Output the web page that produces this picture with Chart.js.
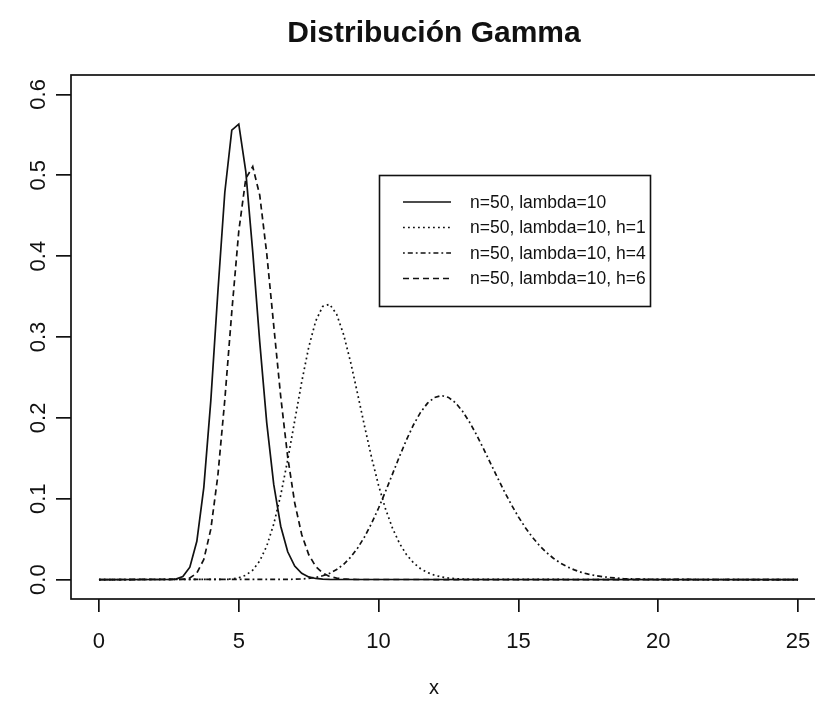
<!DOCTYPE html>
<html>
<head>
<meta charset="utf-8">
<script src="https://cdn.jsdelivr.net/npm/chart.js@4.4.1/dist/chart.umd.min.js"></script>
<style>
html, body { margin: 0; padding: 0; background: #fff; overflow: hidden; }
</style>
</head>
<body>
<canvas id="gammaChart" width="868" height="707"></canvas>
<script>
var chartTitle = "Distribución Gamma";
var xAxisLabel = "x";
var xTicks = [0, 5, 10, 15, 20, 25];
var yTicks = [0, 0.1, 0.2, 0.3, 0.4, 0.5, 0.6];
var yTickLabels = ["0.0", "0.1", "0.2", "0.3", "0.4", "0.5", "0.6"];

var legendLabels = ["n=50, lambda=10", "n=50, lambda=10, h=1", "n=50, lambda=10, h=4", "n=50, lambda=10, h=6"];

// n=50, lambda=10 (solid)
var gammaX = [0, 2.5, 2.75, 3, 3.25, 3.5, 3.75, 4, 4.25, 4.5, 4.75, 5, 5.25, 5.5, 5.75, 6, 6.25, 6.5, 6.75, 7, 7.25, 7.5, 7.75, 8, 8.25, 25];
var gammaY = [0, 0.0001, 0.0006, 0.0037, 0.0153, 0.0473, 0.1141, 0.2213, 0.3544, 0.4787, 0.5558, 0.5633, 0.5049, 0.4050, 0.2936, 0.1939, 0.1177, 0.0660, 0.0344, 0.0168, 0.0077, 0.0033, 0.0014, 0.0005, 0.0002, 0];

// h=1 (dashed in the plot)
var h1X = [0, 3, 3.25, 3.5, 3.75, 4, 4.25, 4.5, 4.75, 5, 5.25, 5.5, 5.75, 6, 6.25, 6.5, 6.75, 7, 7.25, 7.5, 7.75, 8, 8.25, 8.5, 8.75, 9, 9.25, 25];
var h1Y = [0, 0.0004, 0.0020, 0.0081, 0.0250, 0.0623, 0.1280, 0.2221, 0.3311, 0.4308, 0.4959, 0.5107, 0.4753, 0.4032, 0.3141, 0.2262, 0.1515, 0.0949, 0.0558, 0.0310, 0.0163, 0.0081, 0.0039, 0.0018, 0.0008, 0.0003, 0.0001, 0];

// h=4 (dotted in the plot)
var h4X = [0, 4.5, 4.75, 5, 5.25, 5.5, 5.75, 6, 6.25, 6.5, 6.75, 7, 7.25, 7.5, 7.75, 8, 8.25, 8.5, 8.75, 9, 9.25, 9.5, 9.75, 10, 10.25, 10.5, 10.75, 11, 11.25, 11.5, 11.75, 12, 12.25, 12.5, 12.75, 13, 13.25, 13.5, 25];
var h4Y = [0, 0.0003, 0.0008, 0.0022, 0.0054, 0.0117, 0.0231, 0.0415, 0.0685, 0.1044, 0.1481, 0.1963, 0.2444, 0.2872, 0.3196, 0.3378, 0.3405, 0.3281, 0.3029, 0.2688, 0.2296, 0.1893, 0.1508, 0.1164, 0.0871, 0.0633, 0.0447, 0.0308, 0.0207, 0.0135, 0.0087, 0.0054, 0.0033, 0.0020, 0.0012, 0.0007, 0.0004, 0.0002, 0];

// h=6 (dot-dash in the plot)
var h6X = [0, 7, 7.25, 7.5, 7.75, 8, 8.25, 8.5, 8.75, 9, 9.25, 9.5, 9.75, 10, 10.25, 10.5, 10.75, 11, 11.25, 11.5, 11.75, 12, 12.25, 12.5, 12.75, 13, 13.25, 13.5, 13.75, 14, 14.25, 14.5, 14.75, 15, 15.25, 15.5, 15.75, 16, 16.25, 16.5, 16.75, 17, 17.25, 17.5, 17.75, 18, 18.25, 18.5, 18.75, 19, 19.25, 19.5, 19.75, 20, 25];
var h6Y = [0, 0.0004, 0.0008, 0.0015, 0.0027, 0.0047, 0.0078, 0.0124, 0.0189, 0.0277, 0.0390, 0.0530, 0.0696, 0.0885, 0.1092, 0.1308, 0.1525, 0.1731, 0.1915, 0.2068, 0.2182, 0.2252, 0.2276, 0.2253, 0.2187, 0.2083, 0.1949, 0.1792, 0.1620, 0.1441, 0.1262, 0.1088, 0.0925, 0.0776, 0.0641, 0.0524, 0.0422, 0.0336, 0.0264, 0.0205, 0.0158, 0.0120, 0.0090, 0.0067, 0.0050, 0.0036, 0.0026, 0.0019, 0.0013, 0.0009, 0.0007, 0.0005, 0.0003, 0.0002, 0];

var SOLID = [];
var DASHED = [6, 4];
var DOTTED = [1.8, 3.2];
var DOTDASH = [1.8, 3, 5, 3];
var legendDash = [SOLID, DOTTED, DOTDASH, DASHED];

var FONT = "'Liberation Sans', Arial, sans-serif";

function toPoints(xs, ys) {
    var pts = [];
    for (var i = 0; i < xs.length; i++) {
        pts.push({ x: xs[i], y: ys[i] });
    }
    return pts;
}

function makeSet(label, xs, ys, dash) {
    return {
        label: label,
        data: toPoints(xs, ys),
        showLine: true,
        borderColor: '#111',
        borderWidth: 1.7,
        borderDash: dash,
        pointRadius: 0,
        tension: 0,
        fill: false
    };
}

// box around the plot region
var boxPlugin = {
    id: 'plotBox',
    afterDraw: function(chart) {
        var a = chart.chartArea;
        var ctx = chart.ctx;
        ctx.save();
        ctx.strokeStyle = '#111';
        ctx.lineWidth = 1.7;
        ctx.setLineDash([]);
        ctx.strokeRect(a.left, a.top, a.right - a.left, a.bottom - a.top);
        ctx.restore();
    }
};

// y tick labels written along the axis (base R style) + the x axis label
var axisTextPlugin = {
    id: 'axisText',
    afterDraw: function(chart) {
        var scale = chart.scales.y;
        var ctx = chart.ctx;
        ctx.save();
        ctx.fillStyle = '#111';
        ctx.font = '22px ' + FONT;
        ctx.textAlign = 'center';
        ctx.textBaseline = 'alphabetic';
        scale.ticks.forEach(function(t, i) {
            var y = scale.getPixelForValue(t.value);
            ctx.save();
            ctx.translate(45, y);
            ctx.rotate(-Math.PI / 2);
            ctx.fillText(yTickLabels[i], 0, 0);
            ctx.restore();
        });
        ctx.font = '20px ' + FONT;
        ctx.fillText(xAxisLabel, 434, 694);
        ctx.restore();
    }
};

var legendPlugin = {
    id: 'rLegend',
    afterDraw: function(chart) {
        var ctx = chart.ctx;
        ctx.save();
        ctx.strokeStyle = '#111';
        ctx.lineWidth = 1.6;
        ctx.setLineDash([]);
        ctx.strokeRect(379.5, 175.5, 271, 131);
        ctx.font = '17.5px ' + FONT;
        ctx.fillStyle = '#111';
        ctx.textAlign = 'left';
        ctx.textBaseline = 'middle';
        for (var i = 0; i < legendLabels.length; i++) {
            var y = 202 + i * 25.5;
            ctx.setLineDash(legendDash[i]);
            ctx.beginPath();
            ctx.moveTo(403, y);
            ctx.lineTo(451, y);
            ctx.stroke();
            ctx.fillText(legendLabels[i], 470, y + 1);
        }
        ctx.restore();
    }
};

var ctx = document.getElementById("gammaChart").getContext('2d');

new Chart(ctx, {
    type: 'scatter',
    data: {
        datasets: [
            makeSet(legendLabels[0], gammaX, gammaY, SOLID),
            makeSet(legendLabels[1], h1X, h1Y, DASHED),
            makeSet(legendLabels[2], h4X, h4Y, DOTTED),
            makeSet(legendLabels[3], h6X, h6Y, DOTDASH)
        ]
    },
    options: {
        responsive: false,
        animation: false,
        layout: { padding: { left: 42, right: 42, top: 0, bottom: 0 } },
        plugins: {
            legend: { display: false },
            tooltip: { enabled: false },
            title: {
                display: true,
                text: chartTitle,
                color: '#111',
                font: { family: FONT, size: 30, weight: 'bold' },
                padding: { top: 16, bottom: 23 }
            }
        },
        scales: {
            x: {
                type: 'linear',
                min: -1,
                max: 26,
                afterBuildTicks: function(scale) {
                    scale.ticks = xTicks.map(function(v) { return { value: v }; });
                },
                afterFit: function(scale) { scale.height = 108; },
                ticks: {
                    color: '#111',
                    font: { family: FONT, size: 22 },
                    padding: 17,
                    maxRotation: 0
                },
                grid: { drawOnChartArea: false, drawTicks: true, tickLength: 13, color: '#111', lineWidth: 1.7 },
                border: { display: false }
            },
            y: {
                type: 'linear',
                min: -0.024,
                max: 0.624,
                afterBuildTicks: function(scale) {
                    scale.ticks = yTicks.map(function(v) { return { value: v }; });
                },
                afterFit: function(scale) { scale.width = 29; },
                ticks: { display: false },
                grid: { drawOnChartArea: false, drawTicks: true, tickLength: 15, color: '#111', lineWidth: 1.7 },
                border: { display: false }
            }
        }
    },
    plugins: [boxPlugin, axisTextPlugin, legendPlugin]
});
</script>
</body>
</html>
